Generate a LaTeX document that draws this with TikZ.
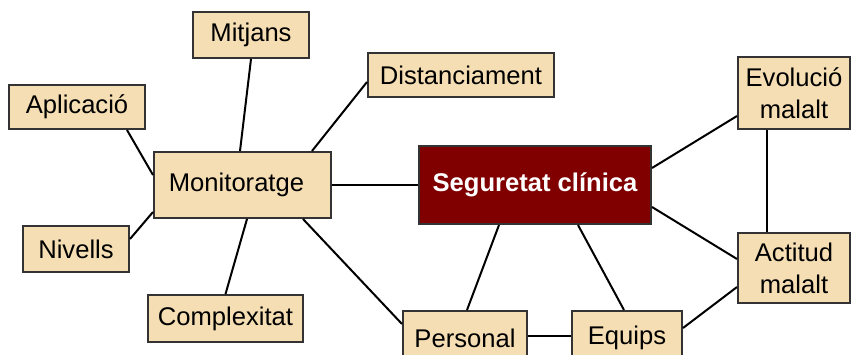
\documentclass[tikz,border=0pt]{standalone}
\usepackage{fontspec}
\setmainfont{Liberation Sans}
\usepackage{tikz}
\usetikzlibrary{calc}

\definecolor{wheatbg}{HTML}{F5DEB3}
\definecolor{maroonbg}{HTML}{800000}

\begin{document}
\begin{tikzpicture}[x=0.5pt, y=-0.5pt,
    box/.style={draw=black!80, line width=1pt, fill=wheatbg, inner sep=0pt,
        align=center, font=\fontsize{12.8}{16}\selectfont},
    hub/.style={draw=black!80, line width=1pt, fill=maroonbg, text=white,
        inner sep=0pt, font=\fontsize{12.8}{16}\selectfont\bfseries},
    link/.style={line width=1pt, black}]
    \useasboundingbox (0,0) rectangle (851,354);

    % Central node
    \node[hub, minimum width=116pt, minimum height=39pt] (seg) at (535,185) {Seguretat clínica};

    % Monitoring cluster on the left
    \node[box, minimum width=88.5pt, minimum height=33pt] (mon) at (242.5,185) {Monitoratge\hspace*{6pt}};
    \node[box, minimum width=58pt, minimum height=23pt] (mit) at (251,35) {Mitjans};
    \node[box, minimum width=68pt, minimum height=22pt] (apl) at (77,107) {Aplicació};
    \node[box, minimum width=93pt, minimum height=22pt] (dis) at (461,75) {Distanciament};
    \node[box, minimum width=53pt, minimum height=23pt] (niv) at (76,249) {Nivells};
    \node[box, minimum width=77.5pt, minimum height=23.5pt] (com) at (225.5,318.5) {Complexitat};

    % Bottom row (runs past the lower edge)
    \node[box, minimum width=62pt, minimum height=27pt] (per) at (465,338) {Personal};
    \node[box, minimum width=55pt, minimum height=27pt] (equ) at (627,338) {Equips};

    % Patient boxes on the right
    \node[box, minimum width=56pt, minimum height=36pt] (evo) at (794,93) {Evolució\\malalt};
    \node[box, minimum width=56pt, minimum height=35pt] (act) at (794,268) {Actitud\\malalt};

    % Links around Monitoratge
    \draw[link] (mon.east) -- (seg.west);
    \draw[link] ([xshift=-1.25pt]mon.north) -- (mit.south);
    \draw[link] ([xshift=34.75pt]mon.north) -- ([yshift=-3.5pt]dis.west);
    \draw[link] ([yshift=5pt]mon.west) -- ([xshift=25pt]apl.south);
    \draw[link] ([yshift=-13.5pt]mon.west) -- ([yshift=5pt]niv.east);
    \draw[link] ([xshift=2.25pt]mon.south) -- (com.north);
    \draw[link] ([xshift=30.25pt]mon.south) -- ([yshift=7pt]per.west);

    % Links around Seguretat clínica
    \draw[link] ([xshift=-18pt]seg.south) -- ([xshift=1pt]per.north);
    \draw[link] ([xshift=21.5pt]seg.south) -- ([xshift=-1.5pt]equ.north);
    \draw[link] ([yshift=1pt]per.east) -- ([yshift=1pt]equ.west);
    \draw[link] ([yshift=8.5pt]seg.east) -- ([yshift=-11.5pt]evo.west);
    \draw[link] ([yshift=-11pt]seg.east) -- ([yshift=4.5pt]act.west);
    \draw[link] ([yshift=5pt]equ.east) -- ([yshift=-9.5pt]act.west);
    \draw[link] ([xshift=-13.5pt]evo.south) -- ([xshift=-13.5pt]act.north);
\end{tikzpicture}
\end{document}
